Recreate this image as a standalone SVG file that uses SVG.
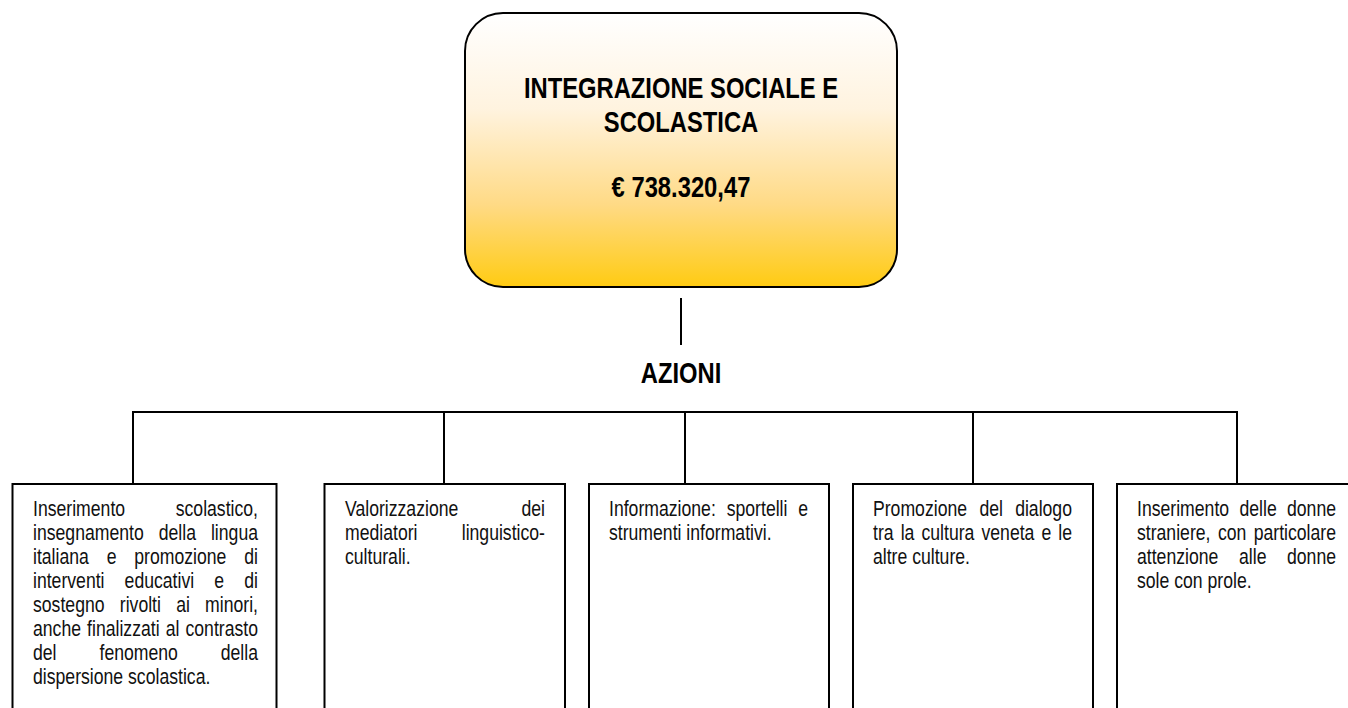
<svg xmlns="http://www.w3.org/2000/svg" width="1348" height="708" viewBox="0 0 1348 708">
<defs>
<linearGradient id="gold" x1="0" y1="0" x2="0" y2="1">
<stop offset="0" stop-color="#FFFFFF"/>
<stop offset="0.35" stop-color="#FFF3DF"/>
<stop offset="0.7" stop-color="#FFDA85"/>
<stop offset="1" stop-color="#FFCB12"/>
</linearGradient>
<style>
.ln{stroke:#000;stroke-width:2;fill:none}
.box{stroke:#000;stroke-width:2;fill:#fff}
.t{font-family:"Liberation Sans",Arial,sans-serif;font-size:21.5px;fill:#111}
.b{font-family:"Liberation Sans",Arial,sans-serif;font-size:29px;font-weight:bold;fill:#000;text-anchor:middle}
.e{text-anchor:end}
</style>
</defs>
<rect width="1348" height="708" fill="#fff"/>

<g id="main">
<rect x="465" y="13" width="432" height="274" rx="38" ry="38" fill="url(#gold)" stroke="#000" stroke-width="2"/>
<g transform="scale(0.82 1)">
<text class="b" x="830.5" y="98">INTEGRAZIONE SOCIALE E</text>
<text class="b" x="830.5" y="132">SCOLASTICA</text>
<text class="b" x="830.5" y="197">€ 738.320,47</text>
</g>
</g>

<g id="azioni">
<g transform="scale(0.82 1)">
<text class="b" x="830.5" y="383">AZIONI</text>
</g>
</g>

<g id="connectors">
<line class="ln" x1="681" y1="298" x2="681" y2="345"/>
<polyline class="ln" points="133,484 133,412 1237,412 1237,484"/>
<line class="ln" x1="444" y1="412" x2="444" y2="484"/>
<line class="ln" x1="685" y1="412" x2="685" y2="484"/>
<line class="ln" x1="973" y1="412" x2="973" y2="484"/>
</g>

<g id="box1">
<rect class="box" x="12.5" y="484" width="264" height="240"/>
<g transform="scale(0.82 1)">
<text class="t" y="516"><tspan x="40.24">Inserimento</tspan></text>
<text class="t e" x="314.63" y="516">scolastico,</text>
<text class="t" y="540"><tspan x="40.24">insegnamento</tspan><tspan x="193.54">della</tspan></text>
<text class="t e" x="314.63" y="540">lingua</text>
<text class="t" y="564"><tspan x="40.24">italiana</tspan><tspan x="130.12">e</tspan><tspan x="163.78">promozione</tspan></text>
<text class="t e" x="314.63" y="564">di</text>
<text class="t" y="588"><tspan x="40.24">interventi</tspan><tspan x="151.95">educativi</tspan><tspan x="261.34">e</tspan></text>
<text class="t e" x="314.63" y="588">di</text>
<text class="t" y="612"><tspan x="40.24">sostegno</tspan><tspan x="146.10">rivolti</tspan><tspan x="214.88">ai</tspan></text>
<text class="t e" x="314.63" y="612">minori,</text>
<text class="t" y="636"><tspan x="40.24">anche</tspan><tspan x="106.22">finalizzati</tspan><tspan x="202.07">al</tspan></text>
<text class="t e" x="314.63" y="636">contrasto</text>
<text class="t" y="660"><tspan x="40.24">del</tspan><tspan x="121.34">fenomeno</tspan></text>
<text class="t e" x="314.63" y="660">della</text>
<text class="t" x="40.24" y="684">dispersione scolastica.</text>
</g>
</g>

<g id="box2">
<rect class="box" x="324.5" y="484" width="240.5" height="240"/>
<g transform="scale(0.82 1)">
<text class="t" x="420.73" y="516">Valorizzazione</text>
<text class="t e" x="664.63" y="516">dei</text>
<text class="t" x="420.73" y="540">mediatori</text>
<text class="t e" x="664.63" y="540">linguistico-</text>
<text class="t" x="420.73" y="564">culturali.</text>
</g>
</g>

<g id="box3">
<rect class="box" x="589" y="484" width="240" height="240"/>
<g transform="scale(0.82 1)">
<text class="t" y="516"><tspan x="742.68">Informazione:</tspan><tspan x="886.22">sportelli</tspan></text>
<text class="t e" x="985.37" y="516">e</text>
<text class="t" x="742.68" y="540">strumenti informativi.</text>
</g>
</g>

<g id="box4">
<rect class="box" x="853" y="484" width="240" height="240"/>
<g transform="scale(0.82 1)">
<text class="t" y="516"><tspan x="1064.63">Promozione</tspan><tspan x="1194.39">del</tspan></text>
<text class="t e" x="1307.32" y="516">dialogo</text>
<text class="t" y="540"><tspan x="1064.63">tra</tspan><tspan x="1098.41">la</tspan><tspan x="1123.78">cultura</tspan><tspan x="1196.95">veneta</tspan><tspan x="1270.12">e</tspan></text>
<text class="t e" x="1307.32" y="540">le</text>
<text class="t" x="1064.63" y="564">altre culture.</text>
</g>
</g>

<g id="box5">
<rect class="box" x="1117" y="484" width="240" height="240"/>
<g transform="scale(0.82 1)">
<text class="t" y="516"><tspan x="1386.59">Inserimento</tspan><tspan x="1511.59">delle</tspan></text>
<text class="t e" x="1629.27" y="516">donne</text>
<text class="t" y="540"><tspan x="1386.59">straniere,</tspan><tspan x="1485.24">con</tspan></text>
<text class="t e" x="1629.27" y="540">particolare</text>
<text class="t" y="564"><tspan x="1386.59">attenzione</tspan><tspan x="1510.98">alle</tspan></text>
<text class="t e" x="1629.27" y="564">donne</text>
<text class="t" x="1386.59" y="588">sole con prole.</text>
</g>
</g>
</svg>
